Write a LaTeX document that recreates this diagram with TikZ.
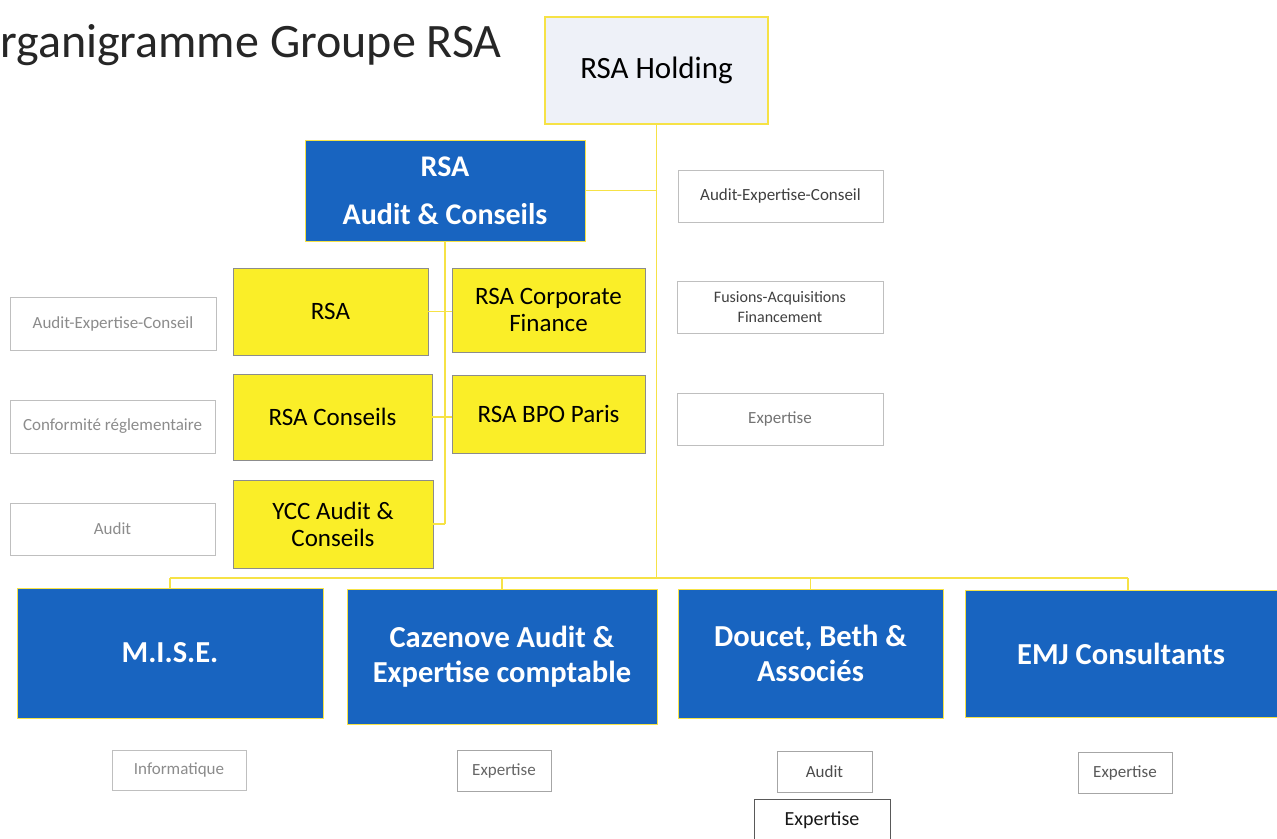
\documentclass[tikz,border=0pt]{standalone}
\usepackage{fontspec}
\setmainfont{Carlito}
\usetikzlibrary{positioning, shapes}

\definecolor{rsablue}{RGB}{24,100,192}
\definecolor{rsayellow}{RGB}{250,238,40}
\definecolor{lineyellow}{RGB}{246,226,70}
\definecolor{holdfill}{RGB}{238,241,248}

\tikzstyle{title} = [anchor=base west, inner sep=0pt, font=\fontsize{48}{54}\selectfont, text=black!85]
\tikzstyle{holding} = [rectangle, draw=lineyellow, line width=1.6pt, fill=holdfill, text centered, inner sep=0pt, font=\fontsize{31}{36}\selectfont]
\tikzstyle{bluebox} = [rectangle, draw=lineyellow, line width=1pt, fill=rsablue, text=white, align=center, inner sep=0pt, font=\bfseries\fontsize{30.5}{35}\selectfont]
\tikzstyle{yellowbox} = [rectangle, draw=black!45, line width=0.8pt, fill=rsayellow, align=center, inner sep=0pt, font=\fontsize{25}{27}\selectfont]
\tikzstyle{tag} = [rectangle, draw=black!25, line width=0.8pt, fill=white, text=black!45, align=center, inner sep=0pt, font=\fontsize{17}{20}\selectfont]
\tikzstyle{connect} = [lineyellow, line width=1.6pt]

\begin{document}
\begin{tikzpicture}[x=1pt, y=-1pt]
            \useasboundingbox [fill=white] (0,0) rectangle (1277,838);

            \node (title) [title] at (0,57) {rganigramme Groupe RSA};
            \node (holding) [holding, minimum width=223pt, minimum height=107pt] at (656.5,70.5) {RSA Holding};
            \node (rsaac) [bluebox, minimum width=280pt, minimum height=101pt, font=\bfseries\fontsize{30}{48}\selectfont] at (445,190.5) {RSA\\Audit \& Conseils};

            % filiales RSA Audit & Conseils
            \node (rsa) [yellowbox, minimum width=195pt, minimum height=87pt] at (330.5,311.5) {RSA};
            \node (corp) [yellowbox, minimum width=193pt, minimum height=84pt] at (548.5,310) {RSA Corporate\\Finance};
            \node (conseils) [yellowbox, minimum width=199pt, minimum height=86pt] at (332.5,417) {RSA Conseils};
            \node (bpo) [yellowbox, minimum width=193pt, minimum height=78pt] at (548.5,414) {RSA BPO Paris};
            \node (ycc) [yellowbox, minimum width=200pt, minimum height=88pt] at (333,524) {YCC Audit \&\\Conseils};

            \node (act_rsa) [tag, minimum width=206pt, minimum height=53pt] at (113,323.5) {Audit-Expertise-Conseil};
            \node (act_conseils) [tag, minimum width=205pt, minimum height=53pt] at (112.5,426.5) {Conformité réglementaire};
            \node (act_ycc) [tag, minimum width=205pt, minimum height=52pt] at (112.5,529) {Audit};
            \node (act_rsaac) [tag, text=black!75, minimum width=205pt, minimum height=52pt] at (780.5,196) {Audit-Expertise-Conseil};
            \node (act_corp) [tag, text=black!75, minimum width=206pt, minimum height=52pt, font=\fontsize{16}{20}\selectfont] at (780,307) {Fusions-Acquisitions\\Financement};
            \node (act_bpo) [tag, text=black!55, minimum width=206pt, minimum height=52pt] at (780,419) {Expertise};

            % filiales RSA Holding
            \node (mise) [bluebox, minimum width=306pt, minimum height=130pt] at (170,653) {M.I.S.E.};
            \node (caz) [bluebox, minimum width=310pt, minimum height=135pt] at (502,656.5) {Cazenove Audit \&\\Expertise comptable};
            \node (doucet) [bluebox, minimum width=265pt, minimum height=129pt] at (810.5,653.5) {Doucet, Beth \&\\Associés};
            \node (emj) [bluebox, minimum width=312pt, minimum height=127pt] at (1121,653.5) {EMJ Consultants};

            \node (act_mise) [tag, minimum width=134pt, minimum height=40pt] at (179,770) {Informatique};
            \node (act_caz) [tag, text=black!60, draw=black!35, minimum width=94pt, minimum height=41pt] at (504,770.5) {Expertise};
            \node (act_doucet1) [tag, text=black!70, draw=black!35, minimum width=95pt, minimum height=41pt] at (824.5,771.5) {Audit};
            \node (act_doucet2) [tag, text=black!90, draw=black!65, minimum width=136pt, minimum height=42pt, font=\fontsize{20}{24}\selectfont] at (822,820) {Expertise};
            \node (act_emj) [tag, text=black!65, draw=black!35, minimum width=94pt, minimum height=41pt] at (1125,772.5) {Expertise};

            \coordinate (barL) at (170,578);
            \coordinate (barR) at (1128,578);

            \draw [connect] (holding.south) -- (holding.south |- barL);
            \draw [connect] (barL) -- (barR);
            \draw [connect] (mise.north) -- (mise.north |- barL);
            \draw [connect] (caz.north) -- (caz.north |- barL);
            \draw [connect] (doucet.north) -- (doucet.north |- barL);
            \draw [connect] (emj.north -| barR) -- (barR);
            \draw [connect] (rsaac.east) -- (rsaac.east -| holding.south);
            \draw [connect] (rsaac.south) -- (rsaac.south |- ycc.east);
            \draw [connect] (ycc.east) -- (rsaac.south |- ycc.east);
            \draw [connect] (rsa.east) -- (rsa.east -| corp.west);
            \draw [connect] (conseils.east) -- (conseils.east -| bpo.west);

        \end{tikzpicture}
\end{document}
